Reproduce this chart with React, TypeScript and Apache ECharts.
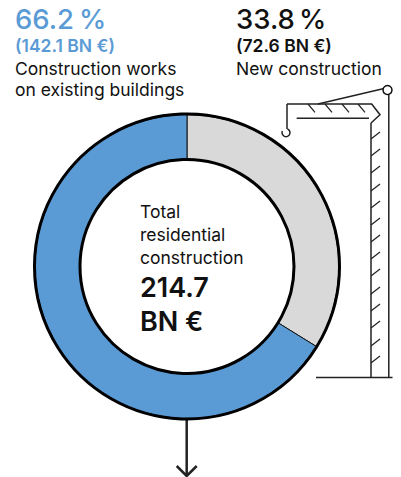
import React, { useEffect, useRef } from "react";
import * as echarts from "echarts";

const categories = ["New construction", "Construction works on existing buildings"];
const values = [72.6, 142.1];
const sliceColors = ["#d9d9d9", "#5b9bd5"];
const FONT = "Inter, 'Noto Sans', sans-serif";
const INK = "#111111";
const BLUE = "#5b9bd5";

const line = (pts: number[][], w = 1.5) => ({
  type: "polyline",
  silent: true,
  shape: { points: pts },
  style: { stroke: "#222222", lineWidth: w, fill: "none" },
});

const txt = (text: string, x: number, baseline: number, size: number, weight: number, fill: string) => ({
  type: "text",
  x,
  y: baseline - size * 0.9,
  silent: true,
  style: { text, x: 0, y: 0, fontFamily: FONT, fontSize: size, fontWeight: weight, fill, textBaseline: "top", textAlign: "left" },
});

const hatchYs = [139, 156, 173, 191, 208, 225, 242, 259, 276, 294, 311, 328, 346, 363];
const jibXs = [308, 325, 342, 358];

const App = () => {
  const ref = useRef<HTMLDivElement>(null);
  useEffect(() => {
    document.body.style.margin = "0";
    const chart = echarts.init(ref.current!, undefined, { renderer: "svg" });
    const center = [187, 266.5];
    chart.setOption({
      animation: false,
      series: [
        {
          type: "pie",
          center,
          radius: [107, 152],
          startAngle: 90,
          clockwise: true,
          silent: true,
          label: { show: false },
          labelLine: { show: false },
          itemStyle: { borderColor: "#111", borderWidth: 1 },
          data: categories.map((name, i) => ({ name, value: values[i], itemStyle: { color: sliceColors[i] } })),
        },
      ],
      graphic: [
        { type: "circle", silent: true, z: 10, shape: { cx: center[0], cy: center[1], r: 152.5 }, style: { fill: "none", stroke: "#000", lineWidth: 3 } },
        { type: "circle", silent: true, z: 10, shape: { cx: center[0], cy: center[1], r: 107 }, style: { fill: "none", stroke: "#000", lineWidth: 3 } },
        txt("66.2", 15, 29.5, 27.5, 500, BLUE),
        txt("%", 79, 29.5, 27.5, 500, BLUE),
        txt("(142.1 BN €)", 15, 52, 17.5, 600, BLUE),
        txt("Construction works", 15, 75, 17.5, 400, INK),
        txt("on existing buildings", 15, 96, 17.5, 400, INK),
        txt("33.8", 236, 29.5, 27.5, 500, INK),
        txt("%", 299, 29.5, 27.5, 500, INK),
        txt("(72.6 BN €)", 236, 52, 17.5, 600, INK),
        txt("New construction", 236, 75, 17.5, 400, INK),
        txt("Total", 140, 218, 17.5, 400, INK),
        txt("residential", 140, 241, 17.5, 400, INK),
        txt("construction", 140, 264, 17.5, 400, INK),
        txt("214.7", 140, 298, 27, 600, INK),
        txt("BN €", 140, 332, 27, 600, INK),
        line([[186.7, 419], [186.7, 476]], 2.5),
        line([[176.7, 466], [186.7, 476], [196.7, 466]], 2.5),
        line([[316, 377.5], [392.5, 377.5]]),
        line([[388.8, 94], [388.8, 377.5]]),
        line([[371, 123], [371, 377.5]]),
        line([[287, 104], [371.7, 104], [380, 114.7], [371, 123]]),
        line([[296.7, 118.3], [369, 118.3]]),
        line([[318, 104], [384, 88.5]]),
        line([[287, 104], [287, 129]]),
        { type: "arc", silent: true, shape: { cx: 286, cy: 132.7, r: 4, startAngle: -1.2, endAngle: -2.7, clockwise: true }, style: { stroke: "#222", lineWidth: 1.5, fill: "none" } },
        { type: "circle", silent: true, shape: { cx: 387.5, cy: 90, r: 4.5 }, style: { fill: "#fff", stroke: "#111", lineWidth: 1.5 } },
        ...jibXs.map((x) => line([[x, 104], [x + 7, 112.3]], 1.2)),
        ...hatchYs.map((y) => line([[371, y], [380, y - 7]], 1.2)),
      ],
    });
    return () => chart.dispose();
  }, []);
  return <div ref={ref} style={{ position: "absolute", left: 0, top: 0, width: 401, height: 477 }} />;
};

export default App;
